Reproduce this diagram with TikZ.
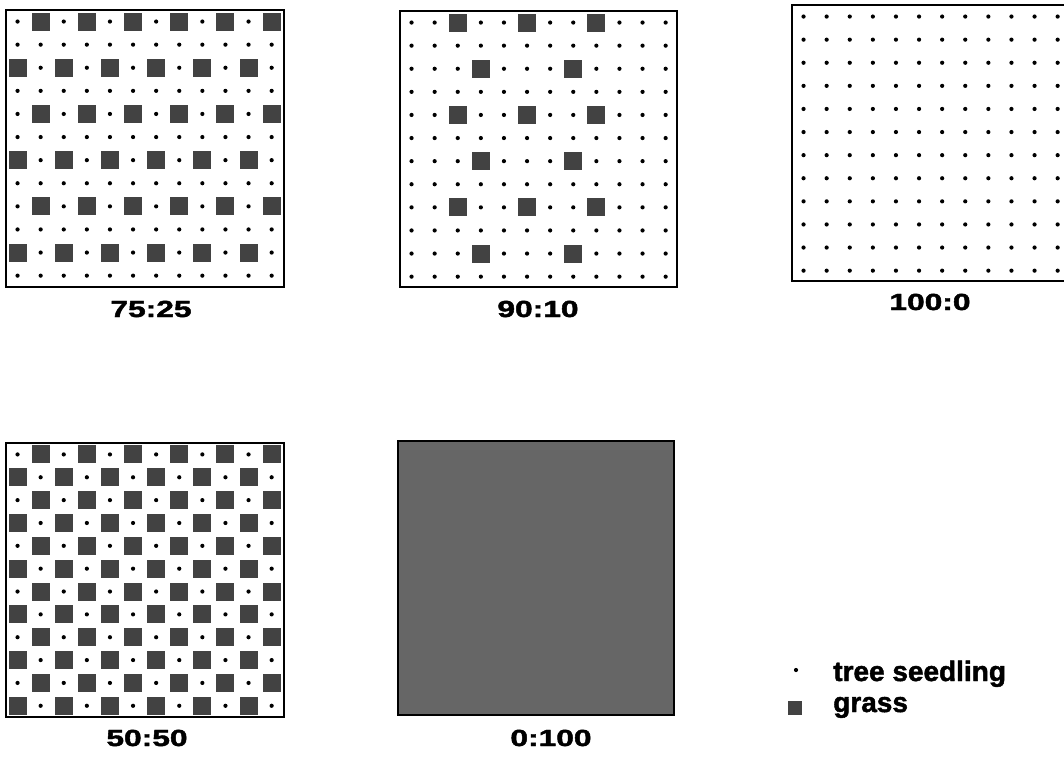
\documentclass[tikz,border=0pt]{standalone}
\usepackage{fontspec}
\usepackage{graphicx}
\setmainfont{Liberation Sans}
\newfontfamily\heavy{Liberation Sans}[BoldFeatures={FakeBold=1.6}]
\newcommand{\widelab}[1]{\scalebox{1.36}[1]{#1}}
\begin{document}
\begin{tikzpicture}[x=0.75pt,y=-0.75pt,
  frame/.style={line width=2.1pt},
  seed/.style={fill=black},
  grassbox/.style={fill=black!74},
  lab/.style={font=\heavy\bfseries\fontsize{17.5}{19}\selectfont, inner sep=0pt},
  legtext/.style={font=\heavy\bfseries\fontsize{21}{24}\selectfont, inner sep=0pt, anchor=base west}]
\useasboundingbox (0,0) rectangle (1064,760);
\def\cs{23.1}
\def\dr{2.1}
% ---------- Panel 75:25 ----------
\foreach \r in {0,...,11}{
  \foreach \c in {0,...,11}{
    \pgfmathsetmacro{\px}{6+(\c+0.5)*\cs}
    \pgfmathsetmacro{\py}{10+(\r+0.5)*\cs}
    \pgfmathtruncatemacro{\g}{(mod(\r,2)==0)*(mod(\c+\r/2,2)==1)}
    \ifnum\g=1
      \fill[grassbox] (\px-9,\py-9) rectangle (\px+9,\py+9);
    \else
      \fill[seed] (\px,\py) circle (\dr);
    \fi
  }
}
\draw[frame] (6,10) rectangle (284,287);
\node[lab] (l1) at (151,309) {\widelab{75:25}};
% ---------- Panel 90:10 ----------
\foreach \r in {0,...,11}{
  \foreach \c in {0,...,11}{
    \pgfmathsetmacro{\px}{400+(\c+0.5)*\cs}
    \pgfmathsetmacro{\py}{11+(\r+0.5)*\cs}
    \pgfmathtruncatemacro{\g}{(mod(\r,4)==0)*((\c==2)+(\c==5)+(\c==8)) + (mod(\r,4)==2)*((\c==3)+(\c==7))}
    \ifnum\g=1
      \fill[grassbox] (\px-9,\py-9) rectangle (\px+9,\py+9);
    \else
      \fill[seed] (\px,\py) circle (\dr);
    \fi
  }
}
\draw[frame] (400,11) rectangle (677,287);
\node[lab] (l2) at (538,309) {\widelab{90:10}};
% ---------- Panel 100:0 ----------
\foreach \r in {0,...,11}{
  \foreach \c in {0,...,11}{
    \pgfmathsetmacro{\px}{792+(\c+0.5)*\cs}
    \pgfmathsetmacro{\py}{5+(\r+0.5)*\cs}
    \fill[seed] (\px,\py) circle (\dr);
  }
}
\draw[frame] (792,5) rectangle (1069,281);
\node[lab] (l3) at (930,302) {\widelab{100:0}};
% ---------- Panel 50:50 ----------
\foreach \r in {0,...,11}{
  \foreach \c in {0,...,11}{
    \pgfmathsetmacro{\px}{6+(\c+0.5)*\cs}
    \pgfmathsetmacro{\py}{443+(\r+0.5)*22.85}
    \pgfmathtruncatemacro{\g}{mod(\r+\c,2)}
    \ifnum\g=1
      \fill[grassbox] (\px-9,\py-9) rectangle (\px+9,\py+9);
    \else
      \fill[seed] (\px,\py) circle (\dr);
    \fi
  }
}
\draw[frame] (6,443) rectangle (284,717);
\node[lab] (l4) at (147,738) {\widelab{50:50}};
% ---------- Panel 0:100 ----------
\fill[black!60] (398,441) rectangle (674,715);
\draw[frame] (398,441) rectangle (674,715);
\node[lab] (l5) at (551,738) {\widelab{0:100}};
% ---------- Legend ----------
\fill[seed] (796,670) circle (\dr);
\fill[grassbox] (788,701) rectangle (802,715);
\node[legtext] (t1) at (833,681) {tree seedling};
\node[legtext] (t2) at (833,712) {grass};
\end{tikzpicture}
\end{document}
